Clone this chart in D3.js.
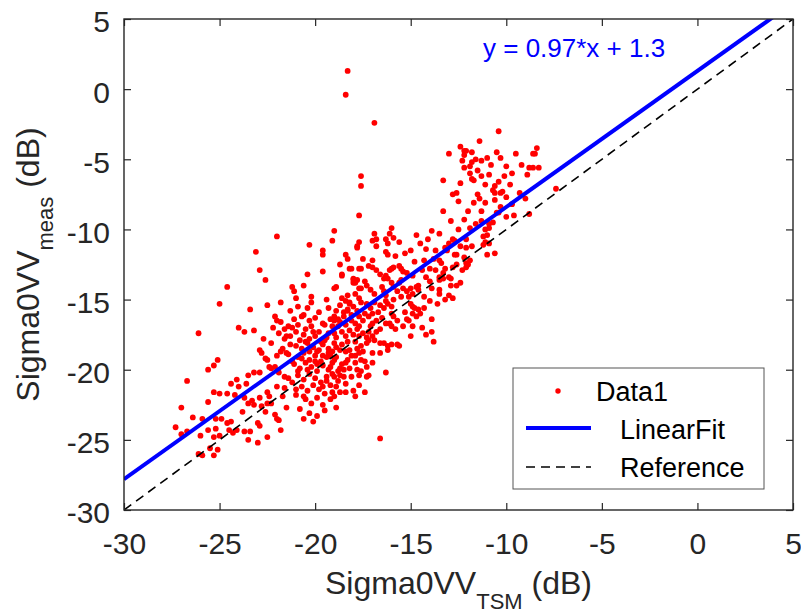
<!DOCTYPE html>
<html><head><meta charset="utf-8">
<script src="https://cdn.jsdelivr.net/npm/d3@7"></script>
<style>body{margin:0;background:#fff}</style>
</head><body>
<svg id="c" width="801" height="614"></svg>
<script>
// Sigma0VV_TSM (dB)
const tsm = [
-18.3,-18.4,-16.9,-17.6,-17.6,-17.7,
-10.4,-11.4,-12.4,-12.2,-12.1,-11.8,-13.0,-12.2,-12.3,-11.8,-11.6,-11.3,-11.0,-11.9,-10.5,-10.3,-9.5,-8.6,-8.5,-8.4,-10.0,-9.7,-8.9,-8.8,-8.6,-8.3,-7.4,-9.0,-8.8,
-13.3,-12.4,-11.8,-11.7,-11.3,-11.1,-10.6,-10.4,
-12.8,-12.6,-11.5,-11.4,-10.7,-10.6,-10.3,-10.2,-10.6,-10.0,-11.7,-11.1,-12.0,-13.3,-10.5,-10.4,-9.6,-10.0,-12.2,-11.6,-11.3,-10.9,-10.7,-11.1,-10.9,-12.5,-13.5,-12.8,-12.7,-12.1,-11.2,-11.0,-11.1,-10.9,-11.2,-11.8,-12.1,-10.6,-11.0,
-14.1,-15.0,-14.2,-13.7,-13.2,-13.1,-12.7,-12.6,-12.2,-14.3,-13.5,-13.4,-13.2,-13.3,-14.0,-13.7,-12.1,-12.3,-12.0,-11.9,-12.1,-12.6,-12.8,-13.0,-12.9,-12.4,-12.6,-12.9,-13.5,-13.5,-13.3,-14.2,-13.9,-13.5,-13.5,-13.0,-12.8,-13.2,-13.6,-14.0,
-16.0,-16.1,-15.9,-16.3,-16.2,-16.3,-16.2,-16.9,-16.8,-17.0,-16.8,-17.7,-17.8,-19.0,-19.1,-18.4,-18.3,-17.5,-17.0,-17.6,-17.7,-17.2,-17.0,-16.8,-16.6,-16.0,-15.9,-16.1,-15.6,-15.5,-15.4,-15.2,-18.7,-18.2,-18.1,-18.6,-18.9,-18.0,-17.9,-17.4,-17.3,-17.6,-17.1,-16.9,-16.4,-16.3,-16.2,-16.0,-15.9,-16.5,-16.4,-16.3,-15.6,-15.4,-15.2,-15.7,-15.5,-15.0,-14.9,-14.6,-14.7,-14.6,-14.3,-15.1,-15.0,-14.9,-14.8,-14.6,-15.2,-15.1,-14.9,-14.7,-14.9,-14.5,-15.4,-16.0,-15.9,-15.7,-16.1,-16.0,-15.8,-16.3,-16.2,-16.0,-16.6,-16.4,-16.9,-16.7,-17.1,-17.0,-17.2,-16.5,-16.3,-14.2,-13.9,-13.8,-16.8,-16.6,-17.0,-16.9,-16.6,-16.4,-16.2,-16.0,-15.7,-15.6,-16.2,-17.3,-17.2,-17.5,-17.7,-16.6,-17.0,-17.6,-17.4,-17.3,-17.9,-18.1,-18.2,-16.3,-17.7,-17.3,-18.5,-18.5,-18.4,-19.2,-19.1,-18.4,-18.0,-17.9,-19.2,-19.1,-16.6,
-18.3,-18.4,-18.2,-18.0,-17.8,-18.3,-18.1,-18.5,-18.7,-18.4,-17.9,-17.7,-17.5,-17.7,-17.4,-17.3,-17.6,-17.7,-18.9,-19.0,-18.8,-18.6,-18.2,-18.0,-18.4,-18.9,-19.0,-19.1,-19.0,-18.6,-18.3,-17.9,-17.7,-17.5,-17.2,-17.1,-17.0,-16.8,-18.7,-18.4,-18.9,-19.1,-17.8,
-19.0,-18.8,-18.9,-18.7,-19.1,-19.0,-18.1,-17.8,-17.6,-18.4,-17.2,
-22.0,-20.3,-23.1,-19.6,-19.6,-17.8,-22.9,-22.6,-20.4,-19.6,-18.6,-18.0,-24.6,-21.2,-21.1,-20.6,-19.0,-20.2,-21.0,-20.2,-21.8,-22.5,-25.0,-23.4,-22.1,-22.0,-20.9,-20.6,-20.0,-19.0,-18.5,-18.3,-18.2,-17.9,-17.7,-18.0,-17.8,-24.0,-23.7,-23.2,-26.1,-22.7,-21.6,-21.4,-21.5,-21.7,-21.6,-21.3,-22.9,-22.8,-22.6,-22.5,-22.0,-21.8,-22.1,-22.4,-25.3,-25.6,-25.1,-26.7,-24.1,-24.4,-23.5,-23.2,-22.9,-24.0,-23.6,-25.3,-25.0,-24.6,-24.2,-23.7,-23.3,-23.5,-23.2,-22.9,-22.8,-22.5,-22.4,-25.6,-23.8,-27.0,-26.4,-25.9,-25.2,-24.9,-24.6,-24.4,-23.0,-22.9,-22.0,-27.3,-27.0,-26.7,-25.6,-25.2,-24.5,-24.1,-23.7,-23.4,-21.8,-26.0,-25.3,-25.0,-23.5,-23.0,-22.5,-26.1,-25.9,-25.3,-25.1,-25.5,-24.3,-21.9,
-21.2,-20.9,-20.5,-20.2,-19.8,-19.5,-19.3,-21.3,-20.8,-20.6,-20.3,-20.0,-19.7,-19.4,-21.0,-20.7,-20.4,-20.1,-19.9,-19.6,-19.3,-21.4,-20.9,-20.6,-20.3,-20.0,-19.7,-19.4,-21.1,-20.8,-20.5,-20.2,-19.9,-19.6,-19.3,-20.9,-20.6,-20.3,-20.0,-19.7,-19.4,-21.2,-20.7,-20.4,-20.1,-19.8,-19.5,-21.0,-20.5,-20.2,-19.9,-19.6,-20.8,-20.3,-19.9,-20.6,
-22.3,-21.6,-22.0,-22.5,-21.7,-22.3,-21.5,-22.6,-22.1,
-20.5,-20.1,-19.8,-19.5,-19.2,-18.9,-18.6,-18.2,-18.8,-19.4,-20.0,-20.3,-20.7,-21.0,-21.5,-21.2,-20.9,-20.4,-19.9,-19.6,-19.3,-19.0,-18.7,-18.3,-17.9,-17.6,-17.3,-17.8,-18.1,-18.8,-19.2,-19.6,-20.3,-20.7,-21.1,-19.8,-19.3,-18.7,-18.6,-19.4,-20.4,-21.3,-21.8,-21.9,-22.3,-22.2,-21.9,-21.4,-21.0,-20.6,-21.6,-19.6,-19.2,-18.9,-19.5,-20.1,-18.7,-17.7,-17.4,-17.0,
-15.8,-15.3,-14.8,-14.4,-14.9,-15.5,-14.0,-13.8,-14.5,-15.6,-13.0,-12.4,-13.9,-14.7,-15.9,-15.3,-14.3,-13.9,-14.4,-15.0,
-11.9,-12.2,-11.5,-10.8,-10.1,-9.8,-9.3,-9.7,-10.3,-11.3,-12.5,-12.9,-11.9,-9.2,-10.9
];
// Sigma0VV_meas (dB)
const meas = [
1.3,-0.4,-2.4,-6.2,-6.9,-9.0,
-3.0,-3.7,-4.1,-4.4,-4.4,-4.5,-4.6,-4.7,-5.1,-5.2,-5.0,-5.1,-4.9,-5.5,-4.5,-4.9,-4.6,-4.6,-4.6,-4.2,-5.5,-6.0,-6.1,-5.6,-5.6,-5.6,-7.1,-7.8,-8.9,
-6.5,-6.7,-6.4,-6.5,-6.2,-6.8,-6.9,-6.6,
-7.5,-7.4,-7.5,-7.8,-7.2,-7.4,-7.4,-7.3,-7.9,-7.7,-8.1,-8.1,-8.7,-8.7,-8.8,-8.8,-9.0,-9.1,-9.3,-9.6,-9.4,-9.6,-9.5,-10.0,-9.9,-10.0,-10.3,-10.7,-10.8,-10.7,-10.5,-10.4,-10.9,-11.0,-11.1,-11.2,-11.3,-11.7,-11.8,
-10.7,-11.5,-11.4,-11.5,-11.3,-11.5,-11.8,-11.8,-12.0,-12.2,-12.2,-12.4,-12.8,-13.1,-12.8,-12.9,-12.7,-12.9,-12.5,-12.2,-12.4,-12.5,-12.7,-13.4,-13.5,-13.8,-14.0,-14.0,-13.4,-13.6,-13.5,-13.4,-14.2,-14.3,-14.6,-14.7,-14.9,-15.0,-15.3,-15.1,
-9.9,-10.3,-10.6,-10.7,-11.0,-11.6,-11.8,-10.3,-10.7,-10.8,-11.2,-10.9,-11.3,-10.1,-10.8,-11.8,-12.1,-12.1,-12.2,-12.8,-12.8,-12.6,-12.7,-12.9,-13.2,-12.8,-12.7,-12.9,-12.6,-12.8,-13.0,-13.1,-12.5,-12.8,-12.8,-13.3,-14.1,-13.5,-13.8,-13.7,-14.0,-14.2,-14.3,-14.6,-13.5,-13.3,-13.5,-13.8,-14.1,-14.1,-14.4,-14.7,-13.8,-14.2,-14.4,-14.4,-14.8,-14.2,-14.6,-14.0,-14.1,-14.3,-14.8,-14.8,-15.3,-15.5,-15.6,-15.7,-16.4,-16.5,-16.0,-16.2,-16.9,-16.0,-16.9,-16.0,-16.2,-16.5,-16.7,-16.9,-17.1,-15.1,-15.3,-15.5,-15.4,-15.6,-15.2,-15.9,-15.6,-16.0,-16.2,-16.3,-16.7,-17.5,-17.3,-18.0,-17.3,-17.1,-17.6,-17.9,-18.1,-18.1,-18.3,-18.2,-18.2,-18.3,-18.6,-18.1,-17.9,-18.7,-18.8,-18.8,-18.8,-19.3,-19.4,-19.8,-19.5,-19.0,-18.6,-20.2,-20.4,-20.5,-20.0,-20.5,-21.0,-21.1,-20.3,-21.6,-21.5,-21.9,-19.8,-19.5,-24.9,
-14.7,-15.1,-15.3,-15.5,-15.8,-15.8,-16.1,-16.2,-16.6,-16.8,-16.7,-16.9,-16.5,-16.2,-16.0,-15.3,-15.2,-14.9,-15.8,-16.2,-16.9,-17.3,-17.2,-17.5,-17.6,-17.7,-17.4,-16.9,-18.1,-18.2,-18.0,-18.0,-17.6,-17.4,-17.3,-16.9,-16.7,-16.5,-18.6,-18.7,-19.1,-18.7,-18.5,
-20.5,-20.1,-21.2,-21.6,-21.6,-21.9,-20.5,-20.0,-20.1,-19.5,-20.4,
-10.5,-11.1,-11.6,-11.5,-11.8,-11.2,-12.9,-13.6,-13.2,-13.0,-13.2,-13.6,-14.1,-14.1,-14.4,-14.0,-14.2,-14.8,-14.9,-15.2,-15.2,-15.4,-15.3,-15.7,-16.2,-16.5,-15.5,-16.1,-16.3,-16.5,-15.9,-15.7,-15.2,-14.6,-14.2,-13.8,-13.6,-17.0,-17.3,-17.2,-17.4,-17.8,-17.1,-16.9,-17.6,-18.5,-17.8,-18.2,-18.6,-18.8,-19.2,-19.3,-19.0,-18.7,-19.8,-19.8,-19.7,-20.0,-19.3,-20.8,-20.7,-21.0,-20.4,-20.2,-20.2,-21.2,-21.0,-21.6,-21.7,-21.7,-21.8,-22.0,-22.2,-22.4,-22.5,-22.0,-22.6,-22.4,-21.9,-22.3,-23.0,-22.7,-23.4,-23.5,-23.5,-23.5,-23.8,-23.7,-23.8,-24.0,-23.5,-24.1,-24.6,-24.4,-24.3,-24.2,-24.3,-24.3,-24.4,-24.4,-24.3,-24.7,-24.8,-24.7,-25.0,-25.2,-24.8,-26.0,-26.1,-26.1,-25.7,-25.6,-24.5,-23.6,
-17.0,-16.8,-17.1,-16.9,-17.3,-16.8,-17.4,-17.6,-17.9,-17.5,-17.8,-17.6,-18.0,-17.7,-18.3,-18.5,-18.1,-18.4,-18.7,-18.2,-18.5,-18.9,-19.1,-18.8,-19.3,-19.0,-19.4,-19.1,-19.6,-19.9,-19.5,-19.8,-20.1,-19.7,-20.0,-20.4,-20.7,-20.3,-20.6,-20.9,-20.5,-20.9,-21.2,-21.5,-21.1,-21.4,-21.7,-21.8,-22.1,-22.4,-22.0,-22.5,-22.8,-23.1,-23.3,-23.5,
-19.9,-20.5,-21.2,-21.6,-21.9,-22.4,-22.7,-23.0,-23.2,
-18.0,-17.3,-18.6,-17.9,-19.0,-18.4,-19.6,-19.9,-20.8,-20.8,-19.4,-18.7,-19.2,-17.3,-18.8,-19.4,-20.1,-20.0,-19.6,-19.0,-18.8,-19.3,-19.9,-19.3,-19.0,-18.3,-17.7,-17.1,-16.5,-16.4,-16.4,-16.7,-16.5,-16.2,-16.4,-15.9,-15.6,-15.4,-14.9,-15.0,-15.6,-15.8,-16.6,-17.4,-18.1,-17.0,-20.2,-20.6,-21.4,-21.9,-21.3,-21.2,-22.1,-22.7,-22.9,-23.7,-20.4,-21.1,-21.6,-19.5,
-11.9,-11.7,-12.3,-12.9,-13.3,-13.6,-13.7,-12.1,-11.0,-10.9,-11.0,-11.2,-10.1,-10.4,-15.0,-15.9,-15.6,-16.4,-17.0,-17.6,
-6.0,-5.6,-5.8,-5.4,-6.2,-6.8,-7.4,-8.2,-8.4,-8.7,-8.0,-9.4,-9.9,-5.4,-6.1
];
const xTicks = [-30,-25,-20,-15,-10,-5,0,5];
const yTicks = [-30,-25,-20,-15,-10,-5,0,5];
const fitSlope = 0.97, fitIntercept = 1.3;
const fitLabel = "y = 0.97*x + 1.3";
const legendLabels = ["Data1", "LinearFit", "Reference"];
const xLabel = {main: "Sigma0VV", sub: "TSM", tail: " (dB)"};
const yLabel = {main: "Sigma0VV", sub: "meas", tail: " (dB)"};

const W = 801, H = 614;
const L = 124, R = 793, T = 19, B = 510;
const FONT = "'Liberation Sans', Arial, Helvetica, sans-serif";
const AX = "#262626";
const svg = d3.select("#c");
const x = d3.scaleLinear().domain([-30, 5]).range([L, R]);
const y = d3.scaleLinear().domain([-30, 5]).range([B, T]);

svg.append("rect").attr("width", W).attr("height", H).attr("fill", "#fff");
svg.append("defs").append("clipPath").attr("id", "clip")
  .append("rect").attr("x", L).attr("y", T).attr("width", R - L).attr("height", B - T);

const pts = tsm.map((v, i) => [v, meas[i]]);
const plot = svg.append("g").attr("clip-path", "url(#clip)");
plot.selectAll("circle.d").data(pts).join("circle").attr("class", "d")
  .attr("cx", d => x(d[0])).attr("cy", d => y(d[1])).attr("r", 2.9).attr("fill", "#ff0000");

const line = d3.line().x(d => x(d[0])).y(d => y(d[1]));
plot.append("path").datum([[-30, -30], [5, 5]]).attr("d", line)
  .attr("stroke", "#000").attr("stroke-width", 1.6).attr("stroke-dasharray", "9,6").attr("fill", "none");
plot.append("path").datum([[-30, fitSlope * -30 + fitIntercept], [5, fitSlope * 5 + fitIntercept]]).attr("d", line)
  .attr("stroke", "#0000ff").attr("stroke-width", 4).attr("fill", "none");

// axes
const fmt = d => String(d);
function styleAxis(g) {
  g.select(".domain").remove();
  g.selectAll("line").attr("stroke", AX).attr("stroke-width", 1.2);
  g.selectAll("text").attr("fill", AX).attr("font-size", 30).attr("font-family", FONT);
}
svg.append("g").attr("transform", `translate(0,${B})`)
  .call(d3.axisBottom(x).tickValues(xTicks).tickSize(-7).tickPadding(23).tickFormat(fmt))
  .call(styleAxis);
svg.append("g").attr("transform", `translate(${L},0)`)
  .call(d3.axisLeft(y).tickValues(yTicks).tickSize(-7).tickPadding(14).tickFormat(fmt))
  .call(styleAxis).call(g => g.selectAll("text").attr("dy", "0.43em"));
svg.append("g").attr("transform", `translate(0,${T})`)
  .call(d3.axisTop(x).tickValues(xTicks).tickSize(-7).tickFormat(() => ""))
  .call(styleAxis);
svg.append("g").attr("transform", `translate(${R},0)`)
  .call(d3.axisRight(y).tickValues(yTicks).tickSize(-7).tickFormat(() => ""))
  .call(styleAxis);
svg.append("rect").attr("x", L).attr("y", T).attr("width", R - L).attr("height", B - T)
  .attr("fill", "none").attr("stroke", AX).attr("stroke-width", 1.4);

// fit label
svg.append("text").attr("x", 483).attr("y", 57).attr("fill", "#0000ff")
  .attr("font-family", FONT).attr("font-size", 26).text(fitLabel);

// axis labels
const xl = svg.append("text").attr("x", (L + R) / 2).attr("y", 594).attr("text-anchor", "middle")
  .attr("fill", AX).attr("font-family", FONT).attr("font-size", 32);
xl.append("tspan").text(xLabel.main);
xl.append("tspan").attr("dy", 15).attr("font-size", 22).text(xLabel.sub);
xl.append("tspan").attr("dy", -15).text(xLabel.tail);

const yl = svg.append("text").attr("transform", `translate(39,${(T + B) / 2}) rotate(-90)`)
  .attr("text-anchor", "middle").attr("fill", AX).attr("font-family", FONT).attr("font-size", 32);
yl.append("tspan").text(yLabel.main);
yl.append("tspan").attr("dy", 14).attr("font-size", 22).text(yLabel.sub);
yl.append("tspan").attr("dy", -14).text(yLabel.tail);

// legend
const lg = svg.append("g");
lg.append("rect").attr("x", 513).attr("y", 368).attr("width", 251).attr("height", 121)
  .attr("fill", "#fff").attr("stroke", "#555").attr("stroke-width", 1);
lg.append("circle").attr("cx", 558).attr("cy", 391).attr("r", 2.7).attr("fill", "#ff0000");
lg.append("line").attr("x1", 526).attr("x2", 591).attr("y1", 428).attr("y2", 428)
  .attr("stroke", "#0000ff").attr("stroke-width", 4);
lg.append("line").attr("x1", 526).attr("x2", 591).attr("y1", 467).attr("y2", 467)
  .attr("stroke", "#000").attr("stroke-width", 1.6).attr("stroke-dasharray", "9,6");
const lx = [596, 620, 620], ly = [401, 439, 477];
legendLabels.forEach((t, i) => {
  lg.append("text").attr("x", lx[i]).attr("y", ly[i]).attr("fill", "#000")
    .attr("font-family", FONT).attr("font-size", 27).text(t);
});
</script>
</body></html>
